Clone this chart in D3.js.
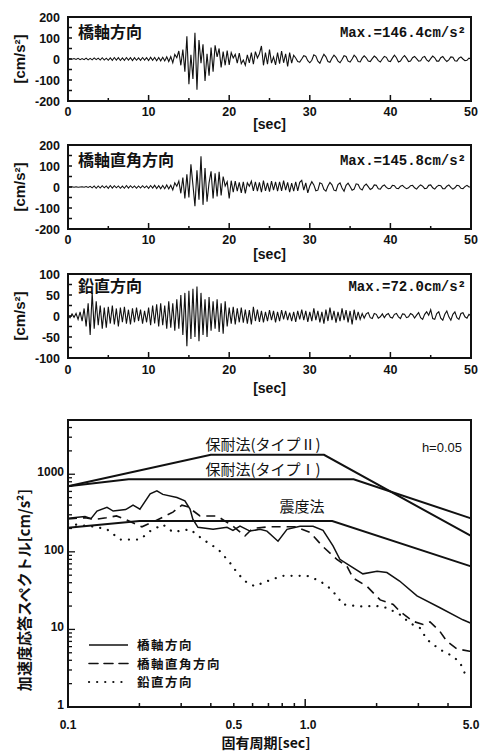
<html>
<head>
<meta charset="utf-8">
<script src="https://d3js.org/d3.v7.min.js"></script>
<style>
  body { margin: 0; background: #fff; }
  text { fill: #111; }
</style>
</head>
<body>
<script>
// ---- data ----
var dt = 0.25;

// 橋軸方向 [cm/s2]
var accLong = [
  0, 1, -1, 2,  -2, 3, -3, 2,  -3, 4, -4, 3,  -4, 5, -3, 4,  -5, 6, -5, 4,
  -6, 5, -6, 7,  -5, 6, -7, 5,  -6, 7, -5, 6,  -7, 6, -6, 5,  -6, 7, -5, 6,
  -7, 8, -6, 7,  -8, 7, -9, 8,  -9, 10, -12, 11,  -18, 22, 6, 38,  -30, 45, -60, 108,
  -120, 20, -95, 125,  -146, 90, -20, 70,  -105, 25, -80, 55,  -60, 65, 10, 50,  -40, 35, -30, 40,
  -28, 30, 5, 22,  -20, 28, -22, -5,  -30, 20, -18, 30,  -25, 35, 5, 25,  62, -30, 30, -25,
  45, -20, 10, -28,  30, -22, 38, -18,  25, -35, 30, -20,  18, 5, -12, -15,  0, 16, 12, -8,
  -18, -6, 20, 14,  -10, -20, 2, 22,  10, -12, -16, 4,  18, 8, -10, -18,  -2, 16, 12, -10,
  -15, 0, 18, 8,  -12, -14, 4, 15,  6, -10, -12, 2,  14, 6, -8, -14,  0, 12, 8, -10,
  -12, 4, 18, 6,  -14, -10, 6, 16,  4, -12, -10, 6,  12, 2, -10, -8,  8, 12, -4, -12,
  2, 14, 6, -10,  -10, 6, 12, -2,  -12, -4, 10, 8,  -8, -10, 4, 10,  0, -8, -6, 4,  0
];
// 橋軸直角方向 [cm/s2]
var accTrans = [
  0, 0, 1, -1,  1, -1, 0, 1,  -1, 2, -2, 3,  -4, 5, -6, 5,  -5, 6, -4, 5,
  -6, 7, -5, 6,  -4, 5, -6, 4,  -6, 7, -5, 6,  -4, 5, -6, 5,  -5, 6, -4, 5,
  -6, 7, -5, 8,  -7, 6, -8, 7,  -8, 10, -9, 8,  -14, 20, 4, 28,  -30, 45, -55, 60,
  -50, 108, 10, -92,  80, -60, 146, -85,  90, -70, 20, 75,  -55, 65, -45, 72,  -40, 50, 5, 25,
  -55, 30, -25, 28,  -20, 22, -28, 25,  -30, 20, 4, 28,  -18, 25, -20, 22,  -25, 30, -18, 20,
  -22, 28, -15, 24,  -20, 25, -18, 30,  -15, 22, -25, 18,  -20, 25, -18, 22,  32, -15, 20, -28,
  5, 25, 10, -18,  -15, 20, 15, -12,  -20, 5, 22, 10,  -15, -18, 12, 20,  -5, -20, 8, 18,
  2, -15, -10, 15,  12, -8, -14, 6,  14, 2, -12, -6,  10, 8, -8, -10,  4, 10, -2, -8,
  -6, 8, 6, -6,  -8, 4, 8, -2,  -8, -4, 6, 8,  -4, -10, 2, 10,  4, -8, -6, 8,
  10, -4, -10, 2,  8, 6, -8, -8,  4, 10, -2, -10,  -4, 8, 6, -6,  -8, 2, 8, 0,  0
];
// 鉛直方向 [cm/s2]
var accVert = [
  2, -4, 5, -3,  6, -8, 10, -12,  18, -25, 30, -45,  55, -30, 35, -22,  25, -30, 20, -28,
  22, -18, 25, -20,  18, -25, 20, -15,  22, -18, 15, -20,  18, -15, 20, -12,  15, -18, 12, -15,
  20, -22, 25, -18,  28, -25, 30, -22,  25, -30, 35, -28,  30, -35, 40, -30,  50, -45, 55, -72,
  60, -55, 65, -50,  70, -60, 55, -45,  40, -50, 45, -35,  35, -30, 40, -38,  30, -42, 35, -25,
  20, -18, 22, -20,  18, -15, 20, -16,  15, -18, 14, -20,  22, -12, 15, -14,  12, -15, 10, -12,
  14, -10, 12, -15,  10, -12, 14, -8,  12, -10, 8, -12,  10, -14, 12, -8,  15, -10, 12, -14,
  10, -12, 18, -10,  12, -15, 10, -18,  15, -12, 20, -10,  12, -16, 10, -12,  18, -10, 14, -15,
  12, -20, 15, -10,  10, -8, 6, -5,  5, 8, -4, -6,  6, 4, -5, -2,  5, -4, 3, 6,
  -3, -5, 4, 6,  -2, -6, 5, 4,  -4, -2, 6, 3,  -5, 2, 8, -4,  -8, 4, 10, 2,
  15, -6, -8, 6,  10, -5, -10, 4,  12, -2, -10, 4,  10, -4, -8, 6,  8, -2, -5, 4,  0
];

var traceNames = ["橋軸方向", "橋軸直角方向", "鉛直方向"];
var traceMax = ["Max.=146.4cm/s²", "Max.=145.8cm/s²", "Max.=72.0cm/s²"];
var traceRange = [200, 200, 100];
var traceTicks = [[200, 100, 0, -100, -200], [200, 100, 0, -100, -200], [100, 50, 0, -50, -100]];
var timeTicks = [0, 10, 20, 30, 40, 50];

// response spectra: [period sec, Sa cm/s2]
var specLong = [
  [0.1, 270], [0.118, 285], [0.125, 268], [0.1325, 335], [0.146, 375], [0.155, 335], [0.175, 350],
  [0.188, 400], [0.201, 355], [0.222, 560], [0.237, 610], [0.251, 550], [0.288, 500], [0.311, 455],
  [0.327, 355], [0.336, 263], [0.353, 207], [0.409, 195], [0.468, 207], [0.496, 189], [0.531, 214],
  [0.585, 185], [0.645, 195], [0.69, 185], [0.768, 137], [0.838, 195], [0.951, 214], [1.079, 214],
  [1.189, 189], [1.31, 119], [1.40, 80], [1.50, 70], [1.75, 52], [2.01, 56], [2.21, 54], [2.5, 42],
  [2.96, 27], [3.70, 19], [4.62, 13.3], [5.0, 12]
];
var specTrans = [
  [0.1, 265], [0.118, 275], [0.13, 262], [0.145, 275], [0.16, 290], [0.175, 260], [0.205, 210],
  [0.233, 250], [0.277, 325], [0.302, 400], [0.32, 380], [0.36, 290], [0.425, 290], [0.496, 214],
  [0.557, 160], [0.60, 200], [0.70, 210], [0.91, 210], [1.05, 178], [1.18, 119], [1.36, 80],
  [1.50, 65], [1.59, 46], [1.82, 36], [2.07, 24], [2.35, 21], [2.51, 17], [2.85, 12.7], [3.14, 11.6],
  [3.36, 12.5], [3.70, 9.4], [3.96, 7], [4.36, 5.6], [5.0, 5.2]
];
var specVert = [
  [0.1, 230], [0.13, 210], [0.146, 195], [0.166, 144], [0.201, 144], [0.222, 185], [0.251, 225],
  [0.277, 180], [0.327, 195], [0.371, 144], [0.409, 119], [0.437, 102], [0.482, 72], [0.521, 52],
  [0.568, 40], [0.614, 36], [0.664, 40], [0.80, 49], [1.02, 49], [1.155, 42], [1.27, 34], [1.36, 27],
  [1.44, 21], [1.70, 19.8], [2.01, 20], [2.21, 19], [2.51, 15.5], [2.77, 12], [3.05, 10.4],
  [3.26, 7.4], [3.70, 5.5], [4.20, 4.5], [4.50, 3.7], [4.81, 2.35]
];
// design spectra
var typeII = [[0.1, 700], [0.4, 1780], [1.2, 1780], [5.0, 160]];
var typeI = [[0.1, 700], [0.18, 860], [1.6, 860], [5.0, 270]];
var seismic = [[0.1, 205], [0.2, 250], [1.3, 250], [5.0, 65]];
var periodTicks = [0.1, 0.5, 1.0, 5.0];
var saTicks = [1, 10, 100, 1000];

// ---- drawing ----
var width = 480, height = 753;
var svg = d3.select("body").append("svg")
  .attr("width", width)
  .attr("height", height);

var left = 68, right = 471;
var numFont = "'Liberation Sans', Arial, sans-serif";
var jpFont = "'Noto Sans CJK JP', sans-serif";

var panels = [
  { top: 17, bottom: 101, secY: 129 },
  { top: 145, bottom: 229, secY: 259 },
  { top: 274, bottom: 358, secY: 393 }
];
var traces = [accLong, accTrans, accVert];

var x = d3.scaleLinear().domain([0, 50]).range([left, right]);

panels.forEach(function(p, i) {
  var r = traceRange[i];
  var y = d3.scaleLinear().domain([-r, r]).range([p.bottom, p.top]);
  var g = svg.append("g");

  // trace
  var line = d3.line()
    .x(function(d, k) { return x(k * dt); })
    .y(function(d) { return y(d); });
  g.append("path")
    .datum(traces[i])
    .attr("d", line)
    .attr("fill", "none")
    .attr("stroke", "#111")
    .attr("stroke-width", 1.1);

  // inner ticks on left
  d3.range(-r, r + 1, r / 4).forEach(function(v) {
    g.append("line")
      .attr("x1", left).attr("x2", left + 4)
      .attr("y1", y(v)).attr("y2", y(v))
      .attr("stroke", "#111").attr("stroke-width", 1.5);
  });
  // inner ticks on bottom
  d3.range(5, 50, 5).forEach(function(v) {
    var len = v % 10 === 0 ? 6 : 3;
    g.append("line")
      .attr("x1", x(v)).attr("x2", x(v))
      .attr("y1", p.bottom).attr("y2", p.bottom - len)
      .attr("stroke", "#111").attr("stroke-width", 1.5);
  });

  // frame
  g.append("rect")
    .attr("x", left).attr("y", p.top)
    .attr("width", right - left).attr("height", p.bottom - p.top)
    .attr("fill", "none").attr("stroke", "#111").attr("stroke-width", 2);

  // tick labels
  traceTicks[i].forEach(function(v) {
    g.append("text")
      .attr("x", left - 8).attr("y", y(v) + 4.5)
      .attr("text-anchor", "end")
      .style("font", "bold 12.5px " + numFont)
      .text(v);
  });
  timeTicks.forEach(function(v) {
    g.append("text")
      .attr("x", x(v)).attr("y", p.bottom + 15 + (i === 2 ? 1 : 0))
      .attr("text-anchor", "middle")
      .style("font", "bold 12.5px " + numFont)
      .text(v);
  });
  g.append("text")
    .attr("x", (left + right) / 2).attr("y", p.secY)
    .attr("text-anchor", "middle")
    .style("font", "bold 14px " + numFont)
    .text("[sec]");

  // axis title
  var cy = (p.top + p.bottom) / 2;
  g.append("text")
    .attr("transform", "translate(25," + cy + ") rotate(-90)")
    .attr("text-anchor", "middle")
    .style("font", "bold 15px " + numFont)
    .text("[cm/s²]");

  // name and max value
  g.append("text")
    .attr("x", left + 10).attr("y", p.top + 21 - (i === 2 ? 3 : 0))
    .style("font", "bold 16px " + jpFont)
    .text(traceNames[i]);
  g.append("text")
    .attr("x", right - 5).attr("y", p.top + 20 - (i === 2 ? 3 : 0))
    .attr("text-anchor", "end")
    .style("font", "bold 14px 'Liberation Mono', monospace")
    .text(traceMax[i]);
});

// ---- response spectrum ----
var top2 = 420, bottom2 = 707;
var sx = d3.scaleLog().domain([0.1, 5]).range([left, right]);
var sy = d3.scaleLog().domain([1, 5000]).range([bottom2, top2]);
var g2 = svg.append("g");

var sline = d3.line()
  .x(function(d) { return sx(d[0]); })
  .y(function(d) { return sy(d[1]); });

[typeII, typeI, seismic].forEach(function(s) {
  g2.append("path").datum(s).attr("d", sline)
    .attr("fill", "none").attr("stroke", "#111").attr("stroke-width", 2);
});
g2.append("path").datum(specLong).attr("d", sline)
  .attr("fill", "none").attr("stroke", "#111").attr("stroke-width", 1.5);
g2.append("path").datum(specTrans).attr("d", sline)
  .attr("fill", "none").attr("stroke", "#111").attr("stroke-width", 1.6)
  .attr("stroke-dasharray", "9,6");
g2.append("path").datum(specVert).attr("d", sline)
  .attr("fill", "none").attr("stroke", "#111").attr("stroke-width", 2.2)
  .attr("stroke-dasharray", "0.1,8").attr("stroke-linecap", "round");

// log ticks
var yMinor = [];
[1, 10, 100, 1000].forEach(function(d) {
  for (var m = 1; m <= 9; m++) if (d * m <= 5000) yMinor.push(d * m);
});
yMinor.forEach(function(v) {
  var len = saTicks.indexOf(v) >= 0 ? 7 : 4;
  g2.append("line")
    .attr("x1", left).attr("x2", left + len)
    .attr("y1", sy(v)).attr("y2", sy(v))
    .attr("stroke", "#111").attr("stroke-width", 1.3);
});
var xMinor = [0.2, 0.3, 0.4, 0.5, 0.6, 0.7, 0.8, 0.9, 1, 2, 3, 4];
xMinor.forEach(function(v) {
  var len = v === 1 ? 8 : 4;
  g2.append("line")
    .attr("x1", sx(v)).attr("x2", sx(v))
    .attr("y1", bottom2).attr("y2", bottom2 - len)
    .attr("stroke", "#111").attr("stroke-width", 1.5);
});

g2.append("rect")
  .attr("x", left).attr("y", top2)
  .attr("width", right - left).attr("height", bottom2 - top2)
  .attr("fill", "none").attr("stroke", "#111").attr("stroke-width", 2);

saTicks.forEach(function(v) {
  g2.append("text")
    .attr("x", left - 4).attr("y", sy(v) + 2)
    .attr("text-anchor", "end")
    .style("font", "bold 12px " + numFont)
    .text(v);
});
periodTicks.forEach(function(v) {
  g2.append("text")
    .attr("x", sx(v) + (v === 1 ? 3 : 0)).attr("y", bottom2 + 22)
    .attr("text-anchor", "middle")
    .style("font", "bold 12px " + numFont)
    .text(v.toFixed(1));
});

// design spectrum labels
g2.append("text").attr("x", 263).attr("y", 450).attr("text-anchor", "middle")
  .style("font", "15px " + jpFont).text("保耐法(タイプⅡ)");
g2.append("text").attr("x", 263).attr("y", 475).attr("text-anchor", "middle")
  .style("font", "15px " + jpFont).text("保耐法(タイプⅠ)");
g2.append("text").attr("x", 302).attr("y", 512).attr("text-anchor", "middle")
  .style("font", "15px " + jpFont).text("震度法");
g2.append("text").attr("x", 462).attr("y", 452).attr("text-anchor", "end")
  .style("font", "13px " + numFont).text("h=0.05");

// legend
var legend = [
  { name: "橋軸方向", dash: null, w: 1.5 },
  { name: "橋軸直角方向", dash: "9,6", w: 1.6 },
  { name: "鉛直方向", dash: "0.1,8", w: 2.2 }
];
legend.forEach(function(d, i) {
  var ly = 645 + i * 18.5;
  var l = g2.append("line")
    .attr("x1", 89).attr("x2", 128)
    .attr("y1", ly).attr("y2", ly)
    .attr("stroke", "#111").attr("stroke-width", d.w);
  if (d.dash) l.attr("stroke-dasharray", d.dash).attr("stroke-linecap", "round");
  g2.append("text")
    .attr("x", 137).attr("y", ly + 5)
    .style("font", "bold 12.5px " + jpFont)
    .style("letter-spacing", "1.5px")
    .text(d.name);
});

// axis titles
g2.append("text")
  .attr("transform", "translate(30,590) rotate(-90)")
  .attr("text-anchor", "middle")
  .style("font", "bold 15px " + jpFont)
  .text("加速度応答スペクトル[cm/s²]");
g2.append("text")
  .attr("x", 266).attr("y", 748)
  .attr("text-anchor", "middle")
  .style("font", "bold 14px " + jpFont)
  .text("固有周期[sec]");
</script>
</body>
</html>
